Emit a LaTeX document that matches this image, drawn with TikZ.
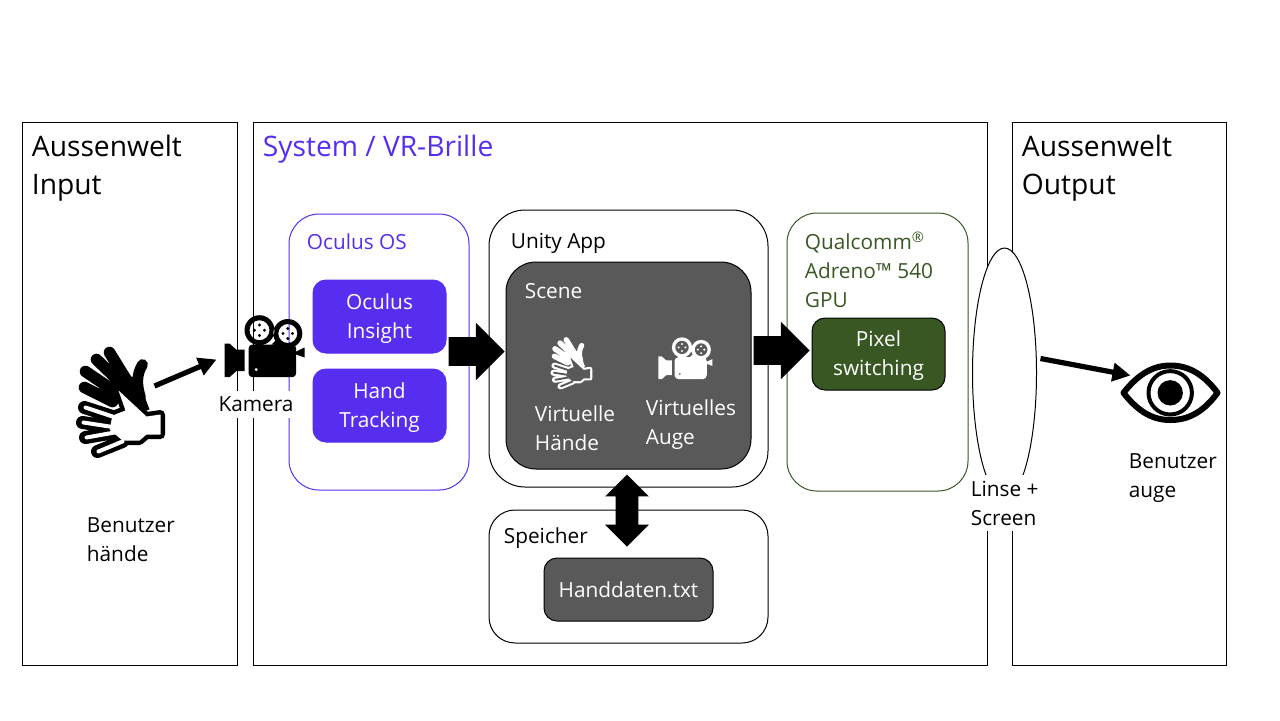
\documentclass[tikz,border=0pt]{standalone}
\usepackage{fontspec}
\setmainfont{Open Sans}
\usetikzlibrary{arrows.meta, shapes.arrows, shapes.geometric}

\definecolor{oculusblue}{HTML}{572DF0}
\definecolor{gpugreen}{HTML}{385723}
\definecolor{scenegrey}{HTML}{595959}

\newcommand{\chipstrut}[1]{\rule{0pt}{#1}}

\tikzset{
    size/.style 2 args={minimum width=#1*0.5pt, minimum height=#2*0.5pt},
    panel/.style={draw=black, line width=0.5pt, anchor=north west, inner sep=0pt},
    roundbox/.style={panel, rounded corners=#1},
    chip/.style={panel, rounded corners=6.5pt, text=white, align=center, font=\fontsize{10.4}{14.5}\selectfont},
    bigtext/.style={anchor=west, align=left, inner sep=0pt, font=\fontsize{14.1}{19}\selectfont},
    smalltext/.style={anchor=west, align=left, inner sep=0pt, font=\fontsize{10.4}{14.5}\selectfont},
    covertext/.style={smalltext, fill=white, inner sep=3pt},
    blockarrow/.style={single arrow, fill=black, inner xsep=0pt, inner ysep=7pt,
        single arrow head extend=7.2pt, single arrow tip angle=90, minimum height=28pt},
    thinarrow/.style={line width=2.6pt, -{Triangle[length=9pt, width=9pt]}},
    pics/hands/.style n args={3}{code={
        % rear hand
        \draw[#1, line width=#3*5.8pt, line cap=round]
            (110,353) -- (131,387) (97,360) -- (123,385)
            (86,372) -- (117,393) (85,388) -- (113,402);
        \draw[#1, line width=#3*5.4pt, line cap=round] (143,365) .. controls (137,375) and (137,385) .. (141,398);
        \fill[#1] (113,395) -- (123,376) -- (138,378) -- (150,410) -- (130,415) -- cycle;
        % front hand
        \draw[#1, line width=#3*6.5pt, line cap=round]
            (85,408) -- (113,417) (83,423) -- (110,427)
            (86,438) -- (115,433) (98,452) -- (123,442);
        \draw[#1, line width=#3*4.5pt, line join=round]
            (119,391) -- (147,417) -- (161,415) -- (161,435) -- (147,435)
            -- (140,441) -- (123,441) -- (110,430) -- (113,416) -- (126,411) -- cycle;
        \draw[#2, line width=#3*2pt, line cap=round]
            (86,408) -- (113,417) (84,423) -- (110,427)
            (87,438) -- (115,433) (99,452) -- (123,442);
        \fill[#2] (119,391) -- (147,417) -- (161,415) -- (161,435) -- (147,435)
            -- (140,441) -- (123,441) -- (110,430) -- (113,416) -- (126,411) -- cycle;
    }},
    pics/moviecam/.style={code={
        \fill[#1] (225,344) -- (230,344) -- (236.7,350) -- (245,350) -- (245,371.7)
            -- (236.7,371.7) -- (230,377.7) -- (225,377.7) -- cycle;
        \fill[#1, even odd rule] [rounded corners=2pt] (249,345) rectangle (296.7,377.7)
            [sharp corners] (256.7,370) circle (1.8);
        \fill[#1] (296.7,352) -- (305,348) -- (305,358) -- (296.7,355) -- cycle;
        \fill[#1] (272,345) -- (278,339) -- (282,346) -- cycle;
        \fill[#1, even odd rule] (260,330.7) circle (15) (260,330.7) circle (10)
            (288.3,334) circle (14.5) (288.3,334) circle (9.5);
        \foreach \hx/\hy in {260/325.5, 260/336, 255/330.7, 265/330.7,
                             288.3/329, 288.3/339, 283.5/334, 293/334}
            \fill[#1] (\hx,\hy) circle (1.7);
    }},
}

\begin{document}
\begin{tikzpicture}[x=0.5pt, y=-0.5pt]
\useasboundingbox (0.5,0.5) rectangle (1280.5,720.5);

% outer panels
\node[panel, size={215}{543}] (input) at (22,122) {};
\node[panel, size={734}{543}] (system) at (253,122) {};
\node[panel, size={214}{543}] (output) at (1012,122) {};
\node[bigtext] (inputlabel) at (32,169) {Aussenwelt\\Input};
\node[bigtext, text=oculusblue] (systemlabel) at (263,150) {System / VR-Brille};
\node[bigtext] (outputlabel) at (1022,169) {Aussenwelt\\Output};

% oculus
\node[roundbox=15pt, draw=oculusblue, size={180}{276}] (oculus) at (289,214) {};
\node[smalltext, text=oculusblue] (oculuslabel) at (307,242.5) {Oculus OS};
\node[chip, draw=oculusblue, fill=oculusblue, size={133}{73}] (insight) at (313,280) {\chipstrut{9.6pt}Oculus\\Insight};
\node[chip, draw=oculusblue, fill=oculusblue, size={133}{73}] (tracking) at (313,369) {\chipstrut{9.6pt}Hand\\Tracking};

% unity
\node[roundbox=18pt, size={279}{277}] (unity) at (489,210) {};
\node[smalltext] (unitylabel) at (511,244) {Unity App};
\node[roundbox=15pt, fill=scenegrey, size={245}{207}] (scene) at (506,262) {};
\node[smalltext, text=white] (scenelabel) at (525,291.5) {Scene};
\node[smalltext, text=white] (handslabel) at (535,428.5) {Virtuelle\\Hände};
\node[smalltext, text=white] (augelabel) at (646,425) {Virtuelles\\Auge};
\pic[xshift=515*0.5pt, yshift=-174.4*0.5pt, scale=0.47] {hands={white}{scenegrey}{0.47}};
\pic[xshift=507*0.5pt, yshift=-124.7*0.5pt, scale=0.675] {moviecam=white};

% speicher
\node[roundbox=13pt, size={279}{133}] (speicher) at (489,510) {};
\node[smalltext] (speicherlabel) at (504,538.5) {Speicher};
\node[chip, fill=scenegrey, size={169}{63}] (handdaten) at (544,558) {Handdaten.txt};

% gpu
\node[roundbox=15pt, draw=gpugreen, size={181}{278}] (gpu) at (787,213) {};
\node[smalltext, text=gpugreen] (gpulabel) at (805,270) {Qualcomm\textsuperscript{®}\\Adreno™ 540\\GPU};
\node[chip, fill=gpugreen, size={133}{72}] (pixel) at (812,318) {\chipstrut{9pt}Pixel\\switching};

% lens
\node[draw=black, line width=0.5pt, fill=white, ellipse, minimum width=32pt, minimum height=125pt, inner sep=0pt] (lens) at (1005,373.5) {};
\node[covertext] (lenslabel) at (965,503.5) {Linse +\\Screen};

% block arrows
\node[blockarrow] (toscene) at (470,352) {};
\node[blockarrow] (togpu) at (775,351) {};
\node[double arrow, fill=black, rotate=90, inner xsep=0pt, inner ysep=5.5pt, minimum height=36pt,
    double arrow head extend=5.25pt, double arrow tip angle=90] (tospeicher) at (627.5,511) {};

% hands, camera, eye
\pic {hands={black}{white}{1}};
\pic {moviecam=black};
\node[covertext, anchor=center] (kameralabel) at (256.5,405) {Kamera};
\node[smalltext] (handtext) at (87,540) {Benutzer\\hände};
\coordinate (handout) at (155,386.5);
\coordinate (camin) at (217,360);
\draw[thinarrow] (handout) -- (camin);

\node[draw=black, line width=2pt, circle, minimum size=21.7pt, inner sep=0pt] (iris) at (1170.7,393.3) {};
\node[fill=black, circle, minimum size=12.7pt, inner sep=0pt] (pupil) at (iris) {};
\draw[line width=3pt, line join=round] (1124,393.3) .. controls (1140,373) and (1155,366) .. (1171,366)
    .. controls (1187,366) and (1203,373) .. (1218,393.3)
    .. controls (1203,414) and (1187,420.5) .. (1171,420.5)
    .. controls (1155,420.5) and (1140,414) .. cycle;
\coordinate (lensout) at (1041,359);
\coordinate (eyein) at (1131,376);
\draw[thinarrow] (lensout) -- (eyein);
\node[smalltext] (eyetext) at (1129,478.5) {Benutzer\\auge};

\end{tikzpicture}
\end{document}
